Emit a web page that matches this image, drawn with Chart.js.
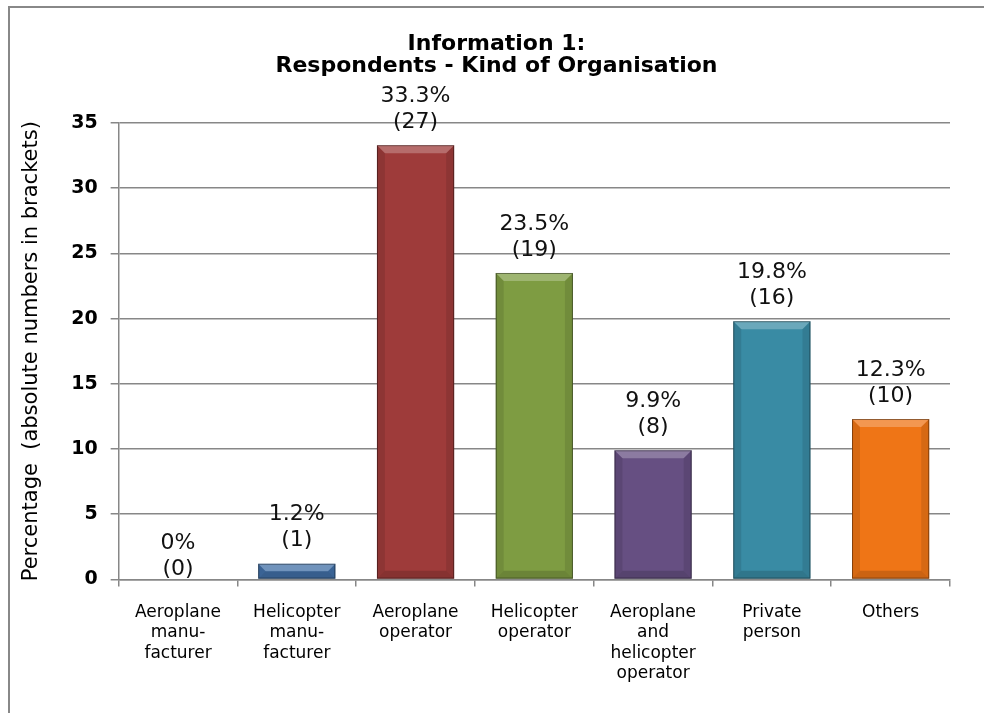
<!DOCTYPE html>
<html>
<head>
<meta charset="utf-8">
<script src="https://cdn.jsdelivr.net/npm/chart.js@4/dist/chart.umd.min.js"></script>
<style>
  html, body { margin: 0; padding: 0; background: #fff; }
  #wrap { position: relative; width: 984px; height: 713px; }
  #frame { position: absolute; left: 8px; top: 6px; right: 0; bottom: 0;
           border-top: 2px solid #888; border-left: 2px solid #888; pointer-events: none; }
</style>
</head>
<body>
<div id="wrap">
  <canvas id="myChart" width="984" height="713"></canvas>
  <div id="frame"></div>
</div>
<script>
  const categories = [
    ['Aeroplane', 'manu-', 'facturer'],
    ['Helicopter', 'manu-', 'facturer'],
    ['Aeroplane', 'operator'],
    ['Helicopter', 'operator'],
    ['Aeroplane', 'and', 'helicopter', 'operator'],
    ['Private', 'person'],
    ['Others']
  ];
  const percentages = [0, 1.2, 33.3, 23.5, 9.9, 19.8, 12.3];
  const counts = [0, 1, 27, 19, 8, 16, 10];
  const yTicks = [0, 5, 10, 15, 20, 25, 30, 35];
  const barColors = ['#4a7ebb', '#416fa6', '#9e3b3a', '#7e9c42', '#664f82', '#398ba4', '#ef7516'];

  // small bevel on top of the flat bar colour
  const bevel = {
    id: 'bevel',
    afterDatasetsDraw(chart) {
      const c = chart.ctx;
      chart.getDatasetMeta(0).data.forEach((bar) => {
        const h = bar.base - bar.y;
        if (h < 1) return;
        const l = bar.x - bar.width / 2, r = bar.x + bar.width / 2;
        const t = bar.y, b = bar.base;
        const d = Math.min(8, h / 2);
        c.save();
        c.fillStyle = 'rgba(255,255,255,0.25)';
        c.beginPath(); c.moveTo(l, t); c.lineTo(r, t); c.lineTo(r - d, t + d); c.lineTo(l + d, t + d); c.closePath(); c.fill();
        c.fillStyle = 'rgba(0,0,0,0.10)';
        c.beginPath(); c.moveTo(r, t); c.lineTo(r, b); c.lineTo(r - d, b - d); c.lineTo(r - d, t + d); c.closePath(); c.fill();
        c.beginPath(); c.moveTo(l, t); c.lineTo(l, b); c.lineTo(l + d, b - d); c.lineTo(l + d, t + d); c.closePath(); c.fill();
        c.fillStyle = 'rgba(0,0,0,0.15)';
        c.beginPath(); c.moveTo(l, b); c.lineTo(r, b); c.lineTo(r - d, b - d); c.lineTo(l + d, b - d); c.closePath(); c.fill();
        c.strokeStyle = 'rgba(0,0,0,0.4)';
        c.lineWidth = 1;
        c.strokeRect(l + 0.5, t + 0.5, r - l - 1, h - 1);
        c.restore();
      });
    }
  };

  const valueLabels = {
    id: 'valueLabels',
    afterDatasetsDraw(chart) {
      const c = chart.ctx;
      c.save();
      c.font = '22px "DejaVu Sans", Verdana, sans-serif';
      c.fillStyle = '#111';
      c.textAlign = 'center';
      c.textBaseline = 'middle';
      chart.getDatasetMeta(0).data.forEach((bar, i) => {
        const p = percentages[i] === 0 ? '0%' : percentages[i].toFixed(1) + '%';
        // empty bars get their label a little closer to the axis
        const gap = percentages[i] === 0 ? 10 : 23;
        c.fillText(p, bar.x, bar.y - gap - 26);
        c.fillText('(' + counts[i] + ')', bar.x, bar.y - gap);
      });
      c.restore();
    }
  };

  const ctx = document.getElementById('myChart');
  new Chart(ctx, {
    type: 'bar',
    data: {
      labels: categories,
      datasets: [{
        data: percentages,
        backgroundColor: barColors,
        borderWidth: 0,
        barPercentage: 0.65,
        categoryPercentage: 1
      }]
    },
    options: {
      responsive: false,
      animation: false,
      // extra left padding moves the main title right; the axis title pulls back with a negative pad
      layout: { padding: { top: 33, left: 43, right: 34, bottom: 13 } },
      plugins: {
        legend: { display: false },
        tooltip: { enabled: false },
        title: {
          display: true,
          text: ['Information 1:', 'Respondents - Kind of Organisation'],
          color: '#000',
          font: { family: '"DejaVu Sans", Verdana, sans-serif', size: 22, weight: 'bold', lineHeight: 1.0 },
          padding: { top: 0, bottom: 46 }
        }
      },
      scales: {
        y: {
          min: 0,
          max: 35,
          afterBuildTicks: (axis) => { axis.ticks = yTicks.map(v => ({ value: v })); },
          ticks: {
            color: '#000',
            padding: 13,
            font: { family: '"DejaVu Sans", Verdana, sans-serif', size: 19, weight: 'bold' }
          },
          grid: { color: '#878787', lineWidth: 1.5, tickLength: 8 },
          border: { color: '#878787', width: 1.5 },
          title: {
            display: true,
            text: 'Percentage  (absolute numbers in brackets)',
            color: '#000',
            font: { family: '"DejaVu Sans", Verdana, sans-serif', size: 21 },
            padding: { top: -24, bottom: 14 }
          }
        },
        x: {
          ticks: {
            color: '#000',
            maxRotation: 0,
            autoSkip: false,
            padding: 16,
            font: { family: '"DejaVu Sans", Verdana, sans-serif', size: 17, lineHeight: 1.2 }
          },
          grid: { offset: true, drawOnChartArea: false, color: '#878787', lineWidth: 1.5, tickLength: 7 },
          border: { color: '#878787', width: 1.5 }
        }
      }
    },
    plugins: [bevel, valueLabels]
  });
</script>
</body>
</html>
